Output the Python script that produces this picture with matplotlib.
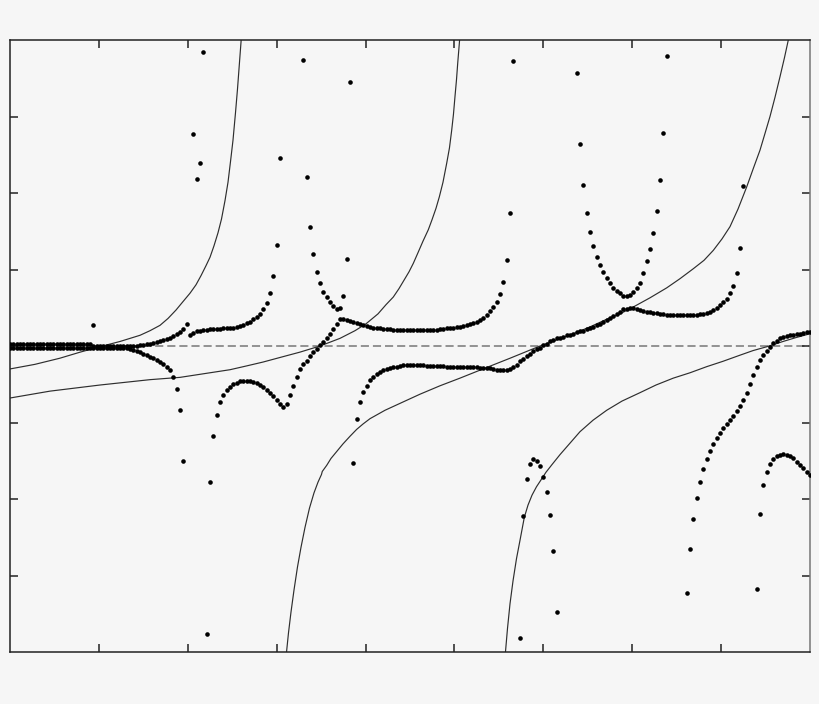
import numpy as np
import matplotlib
matplotlib.use("Agg")
import matplotlib.pyplot as plt

# === DATA ===
# dots sit on a regular sample grid: x = k * X_STEP
X_STEP = 9 / 240

# left band, upper row (k = 0..53)
band_up_k0 = 0
band_up = [0.02, 0.02, 0.02, 0.02, 0.02, 0.02, 0.02, 0.02, 0.02, 0.02, 0.02, 0.02,
           0.02, 0.02, 0.02, 0.02, 0.02, 0.02, 0.02, 0.02, 0.02, 0.02, 0.02, 0.02,
           0.03, 0.00, 0.00, 0.00, 0.00, 0.00, 0.00, 0.00, 0.00, 0.00, 0.00, 0.00,
           0.00, 0.00, 0.00, 0.01, 0.01, 0.02, 0.03, 0.04, 0.05, 0.07, 0.08, 0.09,
           0.11, 0.13, 0.16, 0.18, 0.22, 0.29]

# left band, lower row (k = 0..52)
band_lo_k0 = 0
band_lo = [-0.03, -0.03, -0.03, -0.03, -0.03, -0.03, -0.03, -0.03, -0.03, -0.03,
           -0.03, -0.03, -0.03, -0.03, -0.03, -0.03, -0.03, -0.03, -0.03, -0.03,
           -0.03, -0.03, -0.03, -0.03, -0.03, -0.02, -0.02, -0.02, -0.02, -0.02,
           -0.02, -0.03, -0.03, -0.03, -0.03, -0.03, -0.04, -0.05, -0.07, -0.08,
           -0.10, -0.12, -0.14, -0.16, -0.18, -0.21, -0.24, -0.27, -0.31, -0.41,
           -0.56, -0.84, -1.50]

# lone points (k, y)
lone_k = [25, 55, 56, 57, 58, 59]
lone_y = [0.27, 2.77, 2.18, 2.39, 3.84, -3.76]

# short upper branch (k = 54..81)
upper1_k0 = 54
upper1 = [0.14, 0.17, 0.19, 0.20, 0.21, 0.21, 0.22, 0.22, 0.22, 0.22, 0.23, 0.23,
          0.24, 0.24, 0.25, 0.26, 0.27, 0.30, 0.32, 0.35, 0.38, 0.42, 0.48, 0.56,
          0.69, 0.91, 1.32, 2.46]

# hump, crossing and long flat branch (k = 60..151)
hump_k0 = 60
hump = [-1.78, -1.18, -0.90, -0.73, -0.64, -0.58, -0.53, -0.50, -0.48, -0.46,
        -0.46, -0.46, -0.46, -0.47, -0.49, -0.51, -0.54, -0.58, -0.61, -0.65,
        -0.71, -0.76, -0.80, -0.76, -0.64, -0.52, -0.41, -0.30, -0.24, -0.19,
        -0.13, -0.08, -0.04, 0.01, 0.05, 0.10, 0.16, 0.22, 0.29, 0.35,
        0.35, 0.34, 0.33, 0.31, 0.30, 0.29, 0.27, 0.26, 0.25, 0.24,
        0.24, 0.23, 0.22, 0.22, 0.22, 0.21, 0.21, 0.21, 0.21, 0.21,
        0.21, 0.21, 0.21, 0.21, 0.21, 0.21, 0.21, 0.21, 0.21, 0.22,
        0.22, 0.23, 0.24, 0.24, 0.25, 0.25, 0.26, 0.27, 0.29, 0.30,
        0.31, 0.34, 0.37, 0.41, 0.46, 0.51, 0.57, 0.68, 0.84, 1.13,
        1.74, 3.72]

# narrow U near the top (k = 88..102)
u_left_k0 = 88
u_left = [3.74, 2.21, 1.56, 1.20, 0.97, 0.82, 0.71, 0.64, 0.57, 0.52, 0.49, 0.50,
          0.65, 1.14, 3.45]

# long lower branch running to the right (k = 103..220)
lower2_k0 = 103
lower2 = [-1.53, -0.96, -0.73, -0.60, -0.52, -0.45, -0.40, -0.37, -0.34, -0.32,
          -0.30, -0.29, -0.28, -0.27, -0.26, -0.25, -0.25, -0.25, -0.25, -0.25,
          -0.25, -0.25, -0.26, -0.26, -0.26, -0.26, -0.26, -0.26, -0.27, -0.27,
          -0.27, -0.27, -0.27, -0.28, -0.28, -0.28, -0.28, -0.28, -0.29, -0.29,
          -0.29, -0.29, -0.30, -0.31, -0.31, -0.31, -0.31, -0.30, -0.28, -0.25,
          -0.20, -0.17, -0.13, -0.10, -0.07, -0.04, -0.02, 0.01, 0.03, 0.06,
          0.08, 0.10, 0.11, 0.12, 0.14, 0.15, 0.16, 0.18, 0.19, 0.20,
          0.22, 0.24, 0.25, 0.27, 0.29, 0.31, 0.34, 0.37, 0.39, 0.42,
          0.45, 0.48, 0.49, 0.50, 0.50, 0.49, 0.47, 0.46, 0.45, 0.44,
          0.43, 0.43, 0.42, 0.42, 0.41, 0.41, 0.41, 0.41, 0.41, 0.41,
          0.41, 0.41, 0.41, 0.41, 0.42, 0.42, 0.43, 0.45, 0.47, 0.50,
          0.53, 0.57, 0.62, 0.69, 0.78, 0.95, 1.28, 2.09]

# wide U near the top right (k = 170..197)
u_right_k0 = 170
u_right = [3.57, 2.64, 2.10, 1.74, 1.49, 1.31, 1.16, 1.06, 0.97, 0.89, 0.82, 0.76,
           0.72, 0.69, 0.66, 0.65, 0.67, 0.71, 0.76, 0.83, 0.95, 1.11, 1.27, 1.48,
           1.77, 2.17, 2.78, 3.79]

# small arch below the axis, middle (k = 153..164)
arch_mid_k0 = 153
arch_mid = [-3.82, -2.22, -1.74, -1.54, -1.48, -1.50, -1.57, -1.71, -1.91, -2.21,
            -2.68, -3.48]

# rising branch at the right (k = 203..240)
rise_right_k0 = 203
rise_right = [-3.23, -2.65, -2.26, -1.99, -1.78, -1.61, -1.48, -1.37, -1.28, -1.20,
              -1.14, -1.07, -1.02, -0.97, -0.92, -0.85, -0.78, -0.71, -0.61, -0.50,
              -0.38, -0.27, -0.18, -0.12, -0.06, -0.01, 0.04, 0.07, 0.10, 0.12,
              0.13, 0.14, 0.15, 0.16, 0.16, 0.17, 0.18, 0.18]

# arch at the right edge (k = 224..240)
arch_right_k0 = 224
arch_right = [-3.18, -2.20, -1.82, -1.65, -1.54, -1.48, -1.44, -1.42, -1.41, -1.42,
              -1.44, -1.47, -1.51, -1.55, -1.59, -1.65, -1.69]

curve_a_x = [0.0, 0.28, 0.56, 0.79, 1.01, 1.24, 1.4625, 1.575, 1.6875, 1.7775,
             1.8675, 1.946, 2.025, 2.0925, 2.149, 2.205, 2.25, 2.295, 2.34, 2.3794,
             2.4187, 2.4525, 2.4806, 2.5087, 2.5369, 2.5594, 2.5819, 2.5987, 2.6156]
curve_a_y = [-0.30, -0.24, -0.16, -0.08, -0.01, 0.06, 0.14, 0.20, 0.27, 0.36,
             0.47, 0.58, 0.69, 0.80, 0.92, 1.05, 1.16, 1.31, 1.48, 1.66,
             1.90, 2.14, 2.41, 2.69, 3.05, 3.36, 3.71, 3.97, 4.26]

curve_b_x = [0.0, 0.45, 1.0125, 1.575, 1.9125, 2.1375, 2.306, 2.475, 2.663, 2.846,
             3.0375, 3.2625, 3.4875, 3.60, 3.7125, 3.881, 4.005, 4.14, 4.23, 4.312,
             4.376, 4.4325, 4.489, 4.537, 4.59, 4.646, 4.706, 4.7475, 4.7925, 4.830,
             4.871, 4.913, 4.944, 4.969, 4.989, 5.006, 5.023, 5.037, 5.049, 5.060,
             5.072]
curve_b_y = [-0.68, -0.59, -0.51, -0.44, -0.41, -0.37, -0.34, -0.31, -0.26, -0.21,
             -0.15, -0.08, 0.00, 0.05, 0.10, 0.20, 0.29, 0.42, 0.54, 0.64,
             0.75, 0.86, 0.97, 1.08, 1.22, 1.37, 1.52, 1.65, 1.80, 1.95,
             2.14, 2.39, 2.59, 2.82, 3.03, 3.26, 3.48, 3.70, 3.87, 4.03,
             4.21]

curve_c_x = [3.111, 3.133, 3.161, 3.195, 3.234, 3.274, 3.319, 3.369, 3.42, 3.465,
             3.504, 3.513, 3.563, 3.611, 3.675, 3.746, 3.825, 3.900, 3.971, 4.05,
             4.219, 4.3875, 4.6125, 4.8375, 5.0625, 5.321, 5.625, 5.9625, 6.150, 6.337,
             6.525, 6.713, 6.8625, 7.012, 7.20, 7.388, 7.5375, 7.687, 7.8075, 7.912,
             8.01, 8.10, 8.19, 8.288, 8.362, 8.4375, 8.494, 8.55, 8.606, 8.6625,
             8.713, 8.756, 8.786]
curve_c_y = [-4.00, -3.75, -3.48, -3.19, -2.89, -2.63, -2.37, -2.12, -1.92, -1.78,
             -1.68, -1.64, -1.56, -1.47, -1.38, -1.28, -1.18, -1.09, -1.02, -0.95,
             -0.84, -0.75, -0.63, -0.52, -0.42, -0.30, -0.16, 0.00, 0.08, 0.16,
             0.25, 0.35, 0.42, 0.51, 0.63, 0.76, 0.88, 1.01, 1.12, 1.25,
             1.40, 1.56, 1.79, 2.08, 2.32, 2.56, 2.78, 3.00, 3.25, 3.52,
             3.77, 4.00, 4.17]

curve_d_x = [5.574, 5.597, 5.625, 5.659, 5.698, 5.7375, 5.786, 5.8275, 5.8725, 5.923,
             5.974, 6.03, 6.0975, 6.1875, 6.30, 6.4125, 6.559, 6.713, 6.885, 7.0875,
             7.2675, 7.462, 7.65, 7.838, 8.021, 8.2125, 8.359, 8.513, 8.699, 8.8425,
             9.0]
curve_d_y = [-4.00, -3.69, -3.37, -3.07, -2.78, -2.54, -2.24, -2.08, -1.95, -1.84,
             -1.75, -1.65, -1.55, -1.42, -1.27, -1.12, -0.97, -0.84, -0.72, -0.61,
             -0.51, -0.42, -0.35, -0.27, -0.20, -0.12, -0.06, -0.01, 0.06, 0.11,
             0.16]

x_ticks = [1, 2, 3, 4, 5, 6, 7, 8]
y_ticks = [-3, -2, -1, 0, 1, 2, 3]

BG = "#f6f6f6"


def branch_x(k0, ys):
    return (k0 + np.arange(len(ys))) * X_STEP


fig = plt.figure(figsize=(8.2, 7.04), dpi=100, facecolor=BG)
ax = fig.add_axes([10 / 820, 1 - 652 / 704, 800 / 820, 612 / 704])
ax.set_facecolor(BG)

# --- solid curves ---
for cx, cy in [(curve_a_x, curve_a_y), (curve_b_x, curve_b_y),
               (curve_c_x, curve_c_y), (curve_d_x, curve_d_y)]:
    ax.plot(cx, cy, color="#2e2e2e", lw=0.85, zorder=2, solid_joinstyle="round")

# --- zero line ---
ax.axhline(0, color="#8a8a8a", lw=1.3, dashes=(4.5, 2.2), zorder=1)

# --- dots ---
branches = [
    (band_up_k0, band_up), (band_lo_k0, band_lo), (upper1_k0, upper1),
    (hump_k0, hump), (u_left_k0, u_left), (lower2_k0, lower2),
    (u_right_k0, u_right), (arch_mid_k0, arch_mid),
    (rise_right_k0, rise_right), (arch_right_k0, arch_right),
]
for k0, ys in branches:
    ax.plot(branch_x(k0, ys), ys, "o", ms=3.3, color="black", mec="none", zorder=3)
ax.plot(np.array(lone_k) * X_STEP, lone_y, "o", ms=3.3, color="black", mec="none", zorder=3)

# --- axes styling ---
ax.set_xlim(0, 9)
ax.set_ylim(-4, 4)
ax.set_xticks(x_ticks)
ax.set_yticks(y_ticks)
ax.tick_params(direction="in", length=6, width=1.1, color="#222222",
               top=True, right=True, labelbottom=False, labelleft=False)
for name, s in ax.spines.items():
    s.set_linewidth(1.1)
    s.set_color("#222222")
ax.spines["right"].set_color("#777777")

fig.savefig("out.png", dpi=100, facecolor=BG)
